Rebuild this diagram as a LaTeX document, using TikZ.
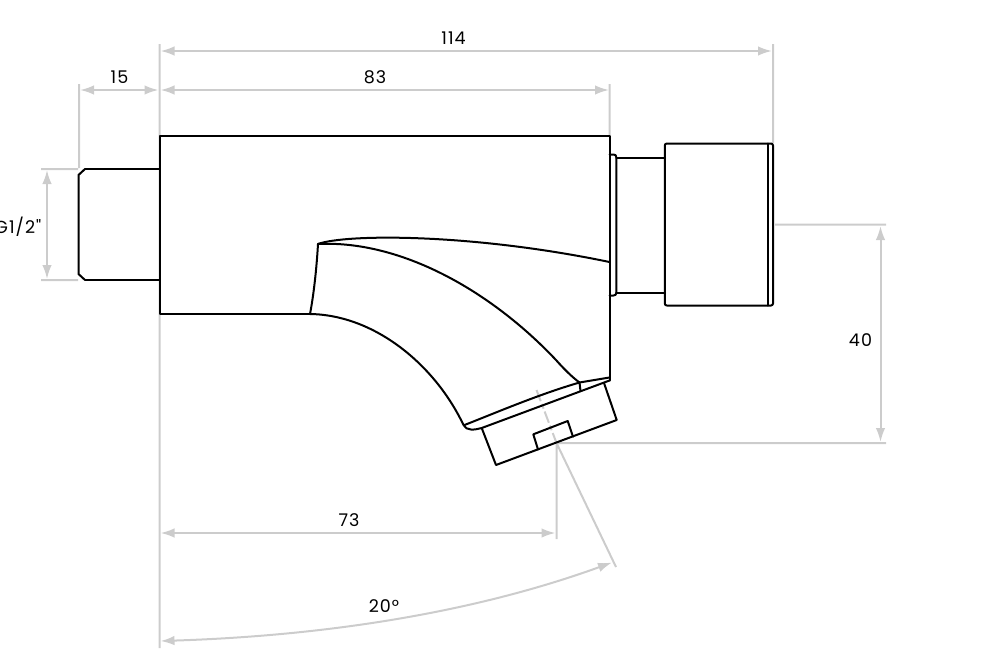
\documentclass[tikz,border=0pt]{standalone}
\usepackage{fontspec}
\setmainfont{Poppins}[Ligatures=TeXOff,LetterSpace=6]
\usetikzlibrary{arrows.meta}
\definecolor{dimgray}{HTML}{CCCCCC}
\tikzset{
  x=1pt,y=-1pt,
  part/.style={draw=black,line width=2pt,line join=round,line cap=round},
  ext/.style={draw=dimgray,line width=2pt},
  dimline/.style={draw=dimgray,line width=2pt,{Latex[length=14pt,width=9.5pt,color=dimgray]}-{Latex[length=14pt,width=9.5pt,color=dimgray]}},
  lbl/.style={font=\fontsize{17.5}{20}\selectfont,text=black,inner sep=0pt},
}
\begin{document}
\begin{tikzpicture}
\useasboundingbox (0,0) rectangle (1000,648);
% extension lines
\coordinate (topL) at (159.5,44); \coordinate (botL) at (159.5,648);
\coordinate (topR) at (773,44); \coordinate (knobR) at (773,143);
\coordinate (t83) at (609.5,84); \coordinate (b83) at (609.5,135);
\coordinate (t15) at (79,84); \coordinate (b15) at (79,168);
\coordinate (g1a) at (41,169); \coordinate (g1b) at (78,169);
\coordinate (g2a) at (41,280); \coordinate (g2b) at (78,280);
\coordinate (e40a) at (775,224.5); \coordinate (e40b) at (886,224.5);
\coordinate (tip) at (556.5,443); \coordinate (e40c) at (886,443);
\coordinate (e73) at (556.5,539); \coordinate (eAng) at (616,567);
\coordinate (cl) at (536.5,390);
\draw[ext] (topL)--(botL) (topR)--(knobR) (t83)--(b83) (t15)--(b15)
  (g1a)--(g1b) (g2a)--(g2b) (e40a)--(e40b) (tip)--(e40c) (tip)--(e73) (tip)--(eAng);
\draw[draw=dimgray,line width=2pt,dash pattern=on 12pt off 3pt on 5pt off 3pt] (cl)--(tip);
% dimensions
\coordinate (a114) at (160.5,51); \coordinate (b114) at (772,51);
\coordinate (a83) at (160.5,90); \coordinate (b83d) at (609,90);
\coordinate (a15) at (80,90); \coordinate (b15d) at (158.5,90);
\coordinate (aG) at (47,170); \coordinate (bG) at (47,279);
\coordinate (a40) at (880.5,226); \coordinate (b40) at (880.5,442);
\coordinate (a73) at (160.5,533); \coordinate (b73) at (555.5,533);
\coordinate (a20) at (160.5,641); \coordinate (b20) at (612,562.5);
\draw[dimline] (a114)--(b114);
\draw[dimline] (a83)--(b83d);
\draw[dimline] (a15)--(b15d);
\draw[dimline] (aG)--(bG);
\draw[dimline] (a40)--(b40);
\draw[dimline] (a73)--(b73);
\draw[dimline] (a20) .. controls (320,636) and (470,614) .. (b20);
% labels
\node[lbl] (l114) at (453.5,38) {114};
\node[lbl] (l83) at (375,77) {83};
\node[lbl] (l15) at (119.5,77) {15};
\node[lbl,anchor=east] (lG) at (41.5,226.5) {G1/2"};
\node[lbl] (l40) at (860.5,340) {40};
\node[lbl] (l73) at (349,520) {73};
\node[lbl] (l20) at (384,606) {20°};
% body
\draw[part] (310,314) -- (159.5,314) -- (159.5,135.8) -- (609.5,135.8) -- (609.5,380.5);
\draw[part] (85,169) -- (159.5,169) (85,280) -- (159.5,280);
\draw[part] (85,169) -- (78.5,175) -- (78.5,274) -- (85,280);
% flange, collar, knob
\draw[part] (609.5,154.5) -- (613.5,154.5) .. controls (615.5,154.5) and (616.3,155.5) .. (616.3,157.5)
  -- (616.3,292.5) .. controls (616.3,294.5) and (615.5,295.5) .. (613.5,295.5) -- (609.5,295.5);
\draw[part] (616.3,157.5) -- (665,157.5) (616.3,292.5) -- (665,292.5);
\draw[part,rounded corners=2pt] (664.8,143.5) rectangle (773,305.5);
\draw[part] (767.5,143.5) -- (767.5,305.5);
% spout
\draw[part] (310,314) .. controls (313.5,296) and (316.5,270) .. (318,244);
\draw[part] (318,244) .. controls (345,234) and (470,233) .. (609.5,262);
\draw[part] (318,244) .. controls (400,240) and (490,290) .. (556,360)
  .. controls (564,369) and (572,377) .. (579.5,382.5);
\draw[part] (310,314) .. controls (375,315) and (435,365) .. (463.5,425);
\draw[part] (463.5,425) .. controls (466,431) and (475,430) .. (481.7,428);
\draw[part] (464.5,425) .. controls (500,411) and (540,394) .. (579.5,382.5);
\draw[part] (579.5,382.5) -- (609.5,377.5);
\draw[part] (579.5,382.5) -- (580.5,391);
\draw[part] (481.7,428) -- (609.5,380.5);
% nozzle
\draw[part] (481.7,428) -- (496,465) -- (616.7,420) -- (604,383);
\draw[part] (538,449.5) -- (533.3,434.3) -- (567.7,421) -- (573,436.7);
\end{tikzpicture}
\end{document}
